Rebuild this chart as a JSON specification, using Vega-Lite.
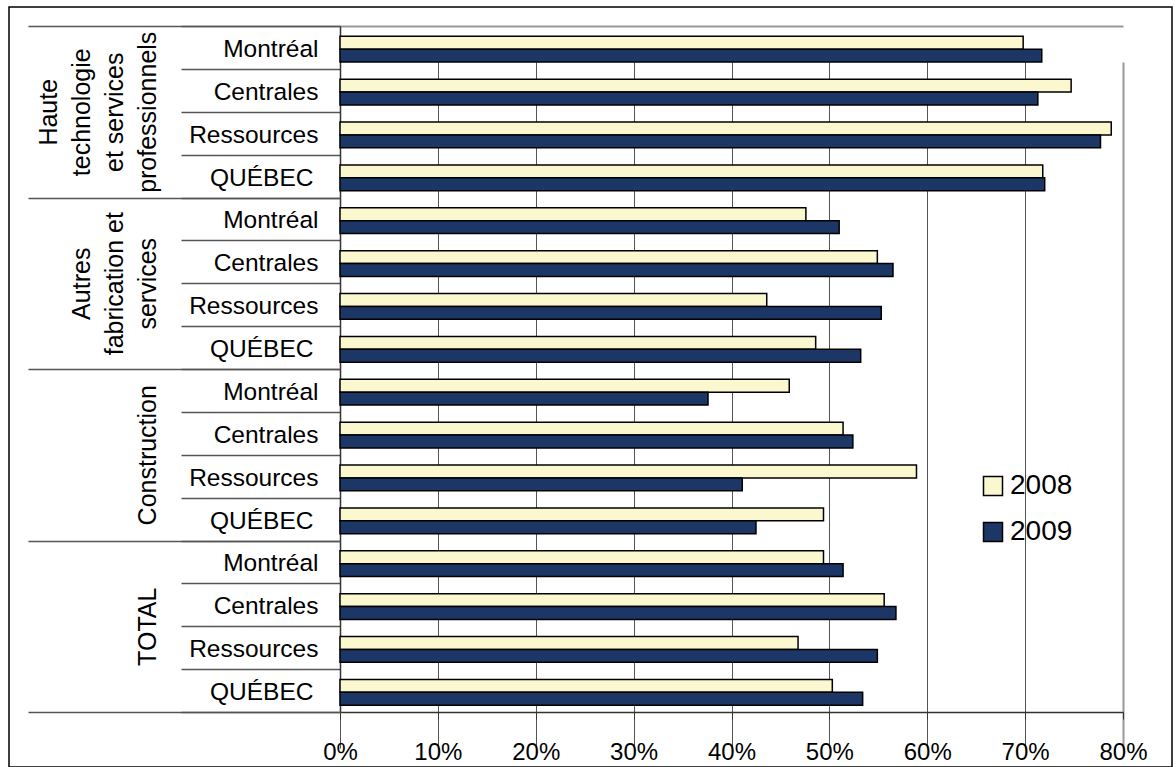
{
  "$schema": "https://vega.github.io/schema/vega-lite/v6.json",
  "width": 1163,
  "height": 760,
  "autosize": {"type": "none"},
  "padding": {"left": 9, "top": 7, "right": 4, "bottom": 0},
  "background": "white",
  "config": {
    "font": "Liberation Sans",
    "view": {"stroke": "black", "strokeWidth": 1.5, "fill": "white"}
  },
  "data": {
    "values": [
      {"group": "Haute technologie et services professionnels", "region": "Montréal", "year": "2008", "value": 0.698},
      {"group": "Haute technologie et services professionnels", "region": "Montréal", "year": "2009", "value": 0.717},
      {"group": "Haute technologie et services professionnels", "region": "Centrales", "year": "2008", "value": 0.747},
      {"group": "Haute technologie et services professionnels", "region": "Centrales", "year": "2009", "value": 0.713},
      {"group": "Haute technologie et services professionnels", "region": "Ressources", "year": "2008", "value": 0.788},
      {"group": "Haute technologie et services professionnels", "region": "Ressources", "year": "2009", "value": 0.777},
      {"group": "Haute technologie et services professionnels", "region": "QUÉBEC", "year": "2008", "value": 0.718},
      {"group": "Haute technologie et services professionnels", "region": "QUÉBEC", "year": "2009", "value": 0.720},
      {"group": "Autres fabrication et services", "region": "Montréal", "year": "2008", "value": 0.476},
      {"group": "Autres fabrication et services", "region": "Montréal", "year": "2009", "value": 0.510},
      {"group": "Autres fabrication et services", "region": "Centrales", "year": "2008", "value": 0.549},
      {"group": "Autres fabrication et services", "region": "Centrales", "year": "2009", "value": 0.565},
      {"group": "Autres fabrication et services", "region": "Ressources", "year": "2008", "value": 0.436},
      {"group": "Autres fabrication et services", "region": "Ressources", "year": "2009", "value": 0.553},
      {"group": "Autres fabrication et services", "region": "QUÉBEC", "year": "2008", "value": 0.486},
      {"group": "Autres fabrication et services", "region": "QUÉBEC", "year": "2009", "value": 0.532},
      {"group": "Construction", "region": "Montréal", "year": "2008", "value": 0.459},
      {"group": "Construction", "region": "Montréal", "year": "2009", "value": 0.376},
      {"group": "Construction", "region": "Centrales", "year": "2008", "value": 0.514},
      {"group": "Construction", "region": "Centrales", "year": "2009", "value": 0.524},
      {"group": "Construction", "region": "Ressources", "year": "2008", "value": 0.589},
      {"group": "Construction", "region": "Ressources", "year": "2009", "value": 0.411},
      {"group": "Construction", "region": "QUÉBEC", "year": "2008", "value": 0.494},
      {"group": "Construction", "region": "QUÉBEC", "year": "2009", "value": 0.425},
      {"group": "TOTAL", "region": "Montréal", "year": "2008", "value": 0.494},
      {"group": "TOTAL", "region": "Montréal", "year": "2009", "value": 0.514},
      {"group": "TOTAL", "region": "Centrales", "year": "2008", "value": 0.556},
      {"group": "TOTAL", "region": "Centrales", "year": "2009", "value": 0.568},
      {"group": "TOTAL", "region": "Ressources", "year": "2008", "value": 0.468},
      {"group": "TOTAL", "region": "Ressources", "year": "2009", "value": 0.549},
      {"group": "TOTAL", "region": "QUÉBEC", "year": "2008", "value": 0.503},
      {"group": "TOTAL", "region": "QUÉBEC", "year": "2009", "value": 0.534}
    ]
  },
  "transform": [{"calculate": "datum.group + '|' + datum.region", "as": "key"}],
  "layer": [
    {
      "mark": {"type": "bar", "stroke": "black", "strokeWidth": 1.5},
      "encoding": {
        "y": {
          "field": "key",
          "type": "nominal",
          "sort": null,
          "scale": {"range": [19, 705], "paddingInner": 0, "paddingOuter": 0},
          "axis": {
            "orient": "left",
            "offset": -331,
            "title": null,
            "domainColor": "#333",
            "domainWidth": 1.5,
            "tickBand": "extent",
            "tickSize": 159,
            "tickColor": "#555",
            "tickWidth": 1.5,
            "labelPadding": {"condition": {"test": "datum.value && indexof(datum.value, 'QUÉBEC') >= 0", "value": -132}, "value": -137},
            "labelOffset": 2,
            "labelFontSize": 24.5,
            "labelColor": "black",
            "labelLimit": 0,
            "labelAlign": "right",
            "labelBaseline": "middle",
            "labelExpr": "datum.value ? split(datum.value, '|')[1] : ''",
            "grid": true,
            "gridColor": "#999",
            "gridWidth": 2,
            "gridOpacity": {"condition": {"test": "datum.index < 0", "value": 1}, "value": 0}
          }
        },
        "yOffset": {
          "field": "year",
          "type": "nominal",
          "scale": {"domain": ["2008", "2009"], "paddingInner": 0, "paddingOuter": 0.667, "align": 0.6}
        },
        "x": {
          "field": "value",
          "type": "quantitative",
          "scale": {"domain": [0, 0.8], "range": [331, 1114], "nice": false},
          "axis": {
            "orient": "bottom",
            "offset": -55,
            "title": null,
            "values": [0, 0.1, 0.2, 0.3, 0.4, 0.5, 0.6, 0.7, 0.8],
            "format": ".0%",
            "domainColor": "#333",
            "domainWidth": 1.5,
            "tickSize": 7,
            "tickColor": "#333",
            "labelPadding": 21,
            "labelFlush": false,
            "labelFontSize": 24,
            "labelColor": "black",
            "grid": true,
            "gridWidth": {"condition": {"test": "datum.value >= 0.8", "value": 2}, "value": 1},
            "gridColor": {"condition": {"test": "datum.value >= 0.8", "value": "#999"}, "value": "#555"}
          }
        },
        "color": {
          "field": "year",
          "type": "nominal",
          "scale": {"domain": ["2008", "2009"], "range": ["#FBF8D0", "#1C3766"]},
          "legend": {
            "orient": "none",
            "legendX": 970,
            "legendY": 465,
            "title": null,
            "padding": 0,
            "symbolType": "square",
            "symbolSize": 361,
            "symbolStrokeColor": "black",
            "symbolStrokeWidth": 1.5,
            "labelFontSize": 28,
            "labelColor": "black",
            "labelOffset": 3,
            "rowPadding": 18
          }
        }
      }
    },
    {
      "mark": {"type": "point", "opacity": 0},
      "encoding": {
        "y": {
          "field": "group",
          "type": "nominal",
          "sort": null,
          "scale": {"range": [19, 705], "paddingInner": 0, "paddingOuter": 0},
          "axis": {
            "orient": "left",
            "offset": -331,
            "title": null,
            "domain": false,
            "tickBand": "extent",
            "tickSize": 312,
            "tickColor": "#555",
            "tickWidth": 1.5,
            "labelAngle": 270,
            "labelAlign": "center",
            "labelBaseline": "bottom",
            "labelPadding": {
              "condition": [
                {"test": "datum.value == 'Haute technologie et services professionnels'", "value": -33},
                {"test": "datum.value == 'Autres fabrication et services'", "value": -66}
              ],
              "value": -132
            },
            "labelFontSize": 25,
            "labelLineHeight": 33,
            "labelLimit": 0,
            "labelColor": "black",
            "labelExpr": "!datum.value ? '' : datum.value == 'Haute technologie et services professionnels' ? ['Haute', 'technologie', 'et services', 'professionnels'] : datum.value == 'Autres fabrication et services' ? ['Autres', 'fabrication et', 'services'] : datum.value",
            "grid": false
          }
        }
      }
    }
  ],
  "resolve": {"scale": {"y": "independent"}}
}
